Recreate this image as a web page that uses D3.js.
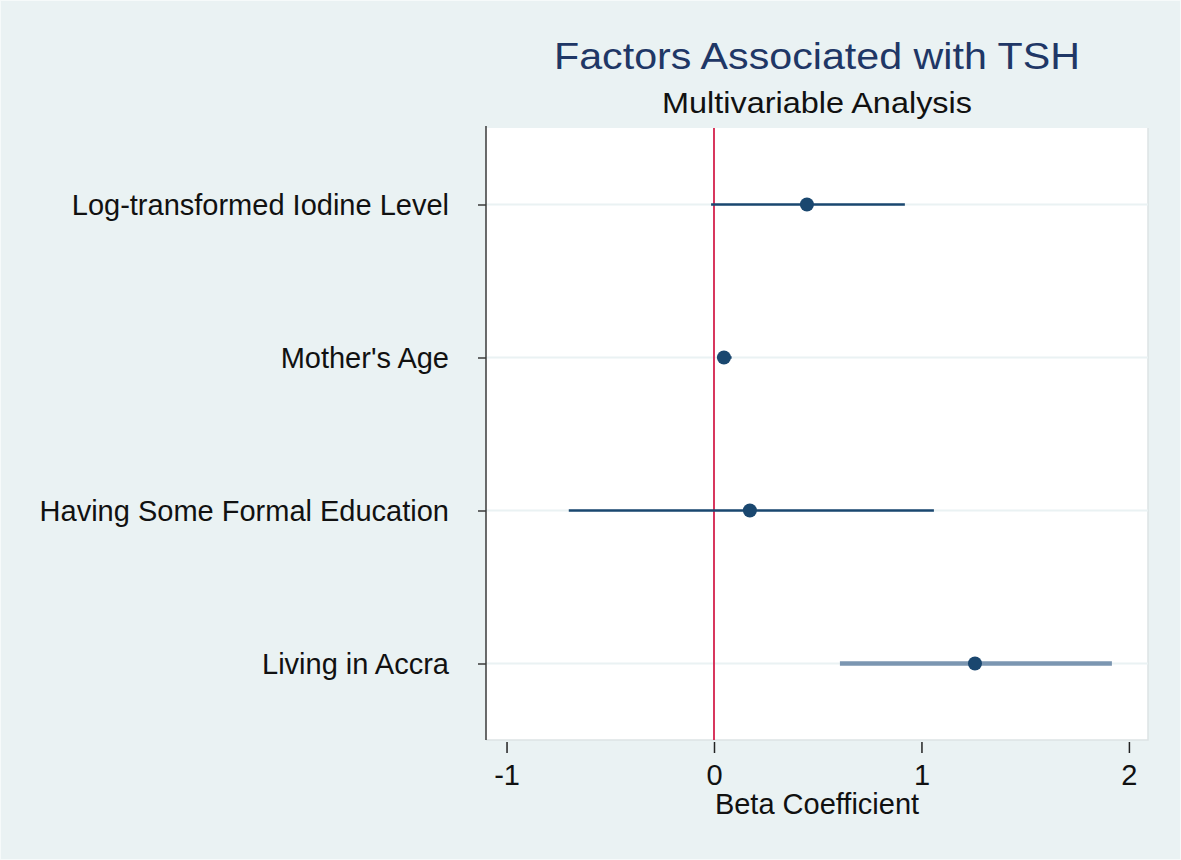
<!DOCTYPE html>
<html>
<head>
<meta charset="utf-8">
<script src="https://cdn.jsdelivr.net/npm/d3@7"></script>
<style>
  body { margin: 0; background: #fff; }
  text { font-family: "Liberation Sans", Arial, sans-serif; }
</style>
</head>
<body>
<div id="chart"></div>
<script>
// Data
const factors = ["Log-transformed Iodine Level", "Mother's Age", "Having Some Formal Education", "Living in Accra"];
const beta = [0.448, 0.048, 0.173, 1.258];
const ciLow = [-0.014, 0.015, -0.70, 0.607];
const ciHigh = [0.92, 0.085, 1.06, 1.918];
const xTicks = [-1, 0, 1, 2];

const W = 1181, H = 860;
const plot = {left: 486, right: 1148, top: 128, bottom: 740};

const svg = d3.select("#chart").append("svg")
  .attr("width", W)
  .attr("height", H);

// Background
svg.append("rect")
  .attr("x", 0).attr("y", 0)
  .attr("width", W).attr("height", H)
  .style("fill", "#eaf2f3")
  .style("stroke", "#f6fafa")
  .style("stroke-width", 2);

svg.append("rect")
  .attr("x", plot.left).attr("y", plot.top)
  .attr("width", plot.right - plot.left)
  .attr("height", plot.bottom - plot.top)
  .style("fill", "#fff");

// plot region edge
svg.append("path")
  .attr("d", `M${plot.left},${plot.bottom}H${plot.right}V${plot.top}`)
  .style("fill", "none")
  .style("stroke", "#dde3e5")
  .style("stroke-width", 1.5);

// Scales
const x = d3.scaleLinear().domain([-1.099, 2.092]).range([plot.left, plot.right]);
const y = d3.scalePoint().domain(factors).range([plot.top, plot.bottom]).padding(0.5);

const rows = factors.map((f, i) => ({key: f, beta: beta[i], lo: ciLow[i], hi: ciHigh[i]}));

// Gridlines
svg.selectAll(".grid")
  .data(factors)
  .enter().append("line")
    .attr("class", "grid")
    .attr("x1", plot.left)
    .attr("x2", plot.right)
    .attr("y1", d => y(d))
    .attr("y2", d => y(d))
    .style("stroke", "#eaf2f3")
    .style("stroke-width", 2);

// Y axis
const yAxis = svg.append("g")
  .attr("transform", `translate(${plot.left},0)`)
  .call(d3.axisLeft(y).tickSize(8).tickPadding(29));
yAxis.select(".domain")
  .attr("d", `M0,${plot.top - 2}V${plot.bottom}`)
  .style("stroke", "#3a3a3a")
  .style("stroke-width", 1.5);
yAxis.selectAll(".tick line").style("stroke", "#3a3a3a").style("stroke-width", 1.5);
yAxis.selectAll(".tick text")
  .style("font-size", "29px")
  .style("fill", "#111")
  .attr("dy", "0.36em");

// X axis
const xAxis = svg.append("g")
  .attr("transform", `translate(0,${plot.bottom + 2})`)
  .call(d3.axisBottom(x).tickValues(xTicks).tickSize(11).tickPadding(11).tickFormat(d3.format("d")));
xAxis.select(".domain").remove();
xAxis.selectAll(".tick line").style("stroke", "#222").style("stroke-width", 1.5);
xAxis.selectAll(".tick text")
  .style("font-size", "29px")
  .style("fill", "#111")
  .text(d => d < 0 ? "-" + Math.abs(d) : d);

// Reference line at zero
svg.append("line")
  .attr("x1", x(0)).attr("x2", x(0))
  .attr("y1", plot.top).attr("y2", plot.bottom)
  .style("stroke", "#d4214d")
  .style("stroke-width", 1.8);

// Confidence intervals
svg.selectAll(".ci")
  .data(rows)
  .enter().append("line")
    .attr("class", "ci")
    .attr("x1", d => x(d.lo))
    .attr("x2", d => x(d.hi))
    .attr("y1", d => y(d.key))
    .attr("y2", d => y(d.key))
    .style("stroke", (d, i) => i === 3 ? "#7b96b1" : "#1a476f")
    .style("stroke-width", (d, i) => i === 3 ? 4.5 : 2.5);

// Point estimates
svg.selectAll(".pt")
  .data(rows)
  .enter().append("circle")
    .attr("class", "pt")
    .attr("cx", d => x(d.beta))
    .attr("cy", d => y(d.key))
    .attr("r", 7)
    .style("fill", "#1a476f");

// Titles
const cx = (plot.left + plot.right) / 2;
svg.append("text")
  .attr("x", cx).attr("y", 69)
  .style("text-anchor", "middle")
  .style("font-size", "37px")
  .style("fill", "#1f3766")
  .attr("textLength", 526)
  .attr("lengthAdjust", "spacingAndGlyphs")
  .text("Factors Associated with TSH");

svg.append("text")
  .attr("x", cx).attr("y", 113)
  .style("text-anchor", "middle")
  .style("font-size", "30px")
  .style("fill", "#111")
  .attr("textLength", 310)
  .attr("lengthAdjust", "spacingAndGlyphs")
  .text("Multivariable Analysis");

svg.append("text")
  .attr("x", cx).attr("y", 814)
  .style("text-anchor", "middle")
  .style("font-size", "29px")
  .style("fill", "#111")
  .text("Beta Coefficient");
</script>
</body>
</html>
